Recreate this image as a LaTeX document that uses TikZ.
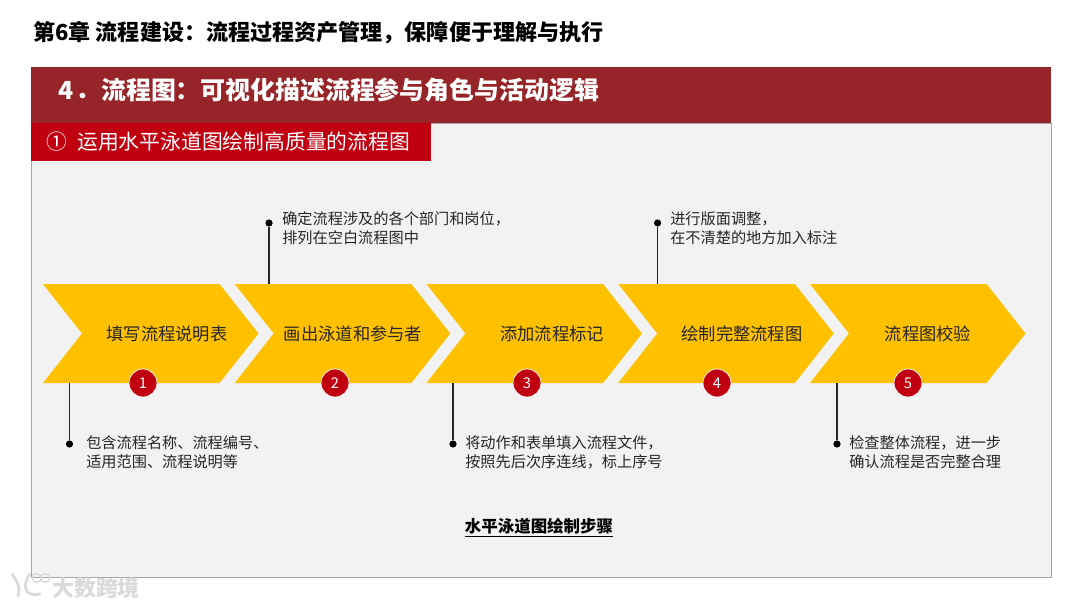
\documentclass[tikz,border=0pt]{standalone}
\usepackage{fontspec}
\setmainfont{Noto Sans CJK SC}
\usetikzlibrary{positioning, shapes.symbols}
\definecolor{bandred}{HTML}{962428}
\definecolor{tabred}{HTML}{C00010}
\definecolor{chevgold}{HTML}{FFC000}
\definecolor{panelgray}{HTML}{F2F2F2}
\definecolor{edgegray}{HTML}{A6A6A6}
\definecolor{inkgray}{HTML}{262626}
\definecolor{markgray}{HTML}{DADADA}

\begin{document}
\begin{tikzpicture}[
    panel/.style={draw=edgegray, fill=panelgray, line width=0.6pt, minimum width=25.5cm,
                  minimum height=11.35cm, inner sep=0pt, outer sep=0pt},
    band/.style={fill=bandred, minimum width=25.5cm, minimum height=1.4cm,
                 inner sep=0pt, outer sep=0pt},
    tab/.style={fill=tabred, minimum width=10cm, minimum height=0.95cm,
                inner sep=0pt, outer sep=0pt},
    chev/.style={shape=signal, signal from=west, signal to=east, signal pointer angle=103.6,
                 fill=chevgold, minimum width=5.3875cm, minimum height=2.475cm,
                 inner sep=0pt, outer sep=0pt},
    chevtext/.style={font=\fontsize{12.3}{15}\selectfont, text=inkgray},
    badge/.style={circle, fill=tabred, draw=white, line width=0.5pt, minimum size=0.7cm,
                  inner sep=0pt, text=white, font=\fontsize{10.5}{12}\selectfont},
    dot/.style={circle, fill=black, minimum size=0.18cm, inner sep=0pt},
    lead/.style={draw=black!85, line width=1pt},
    note/.style={anchor=west, align=left, text=inkgray, inner sep=0pt,
                 font=\fontsize{10.8}{13.6}\selectfont}
  ]
  \useasboundingbox (0, 0) rectangle (27, 15.2);

  % Title
  \node[anchor=west, inner sep=0pt, font=\fontsize{15.7}{18}\selectfont\bfseries] (title)
    at (0.825, 14.375) {第6章 流程建设：流程过程资产管理，保障便于理解与执行};

  % Panel and header
  \node[panel] (frame) at (13.525, 6.45) {};
  \node[band] (head) at (13.525, 12.825) {};
  \node[tab, anchor=north west] (sub) at (frame.north west) {};
  \node[anchor=west, inner sep=0pt, text=white, font=\fontsize{17.7}{20}\selectfont\bfseries] (headtext)
    at (1.45, 12.95) {4\hspace{1.5pt}．\hspace{0.6pt}流程图：可视化描述流程参与角色与活动逻辑};
  \node[anchor=west, inner sep=0pt, text=white, font=\fontsize{14.8}{18}\selectfont] (subtext)
    at (1.15, 11.65) {①\hspace{7.2pt}运用水平泳道图绘制高质量的流程图};

  % Chevrons
  \foreach \i/\cx/\lx/\t in {1/3.769/4.175/填写流程说明表,
                             2/8.5625/8.825/画出泳道和参与者,
                             3/13.356/13.8/添加流程标记,
                             4/18.15/18.55/绘制完整流程图,
                             5/22.944/23.2/流程图校验} {
    \node[chev] (c\i) at (\cx, 6.8625) {};
    \node[chevtext] (t\i) at (\lx, 6.85) {\t};
  }

  % Number badges
  \foreach \i/\bx in {1/3.575, 2/8.375, 3/13.175, 4/17.925, 5/22.7}
    \node[badge] (b\i) at (\bx, 5.625) {\i};

  % Notes below
  \node[dot] (d1) at (1.7375, 4.1) {};
  \node[dot] (d3) at (11.325, 4.1) {};
  \node[dot] (d5) at (20.925, 4.1) {};
  \draw[lead] (d1) -- (d1 |- c1.south);
  \draw[lead] (d3) -- (d3 |- c3.south);
  \draw[lead] (d5) -- (d5 |- c5.south);
  \node[note] (n1) at (2.15, 3.9) {包含流程名称、流程编号、\\适用范围、流程说明等};
  \node[note] (n3) at (11.625, 3.9) {将动作和表单填入流程文件，\\按照先后次序连线，标上序号};
  \node[note] (n5) at (21.225, 3.9) {检查整体流程，进一步\\确认流程是否完整合理};

  % Notes above
  \node[dot] (d2) at (6.725, 9.625) {};
  \node[dot] (d4) at (16.44, 9.625) {};
  \draw[lead] (d2) -- (d2 |- c2.north);
  \draw[lead] (d4) -- (d4 |- c4.north);
  \node[note] (n2) at (7.05, 9.4875) {确定流程涉及的各个部门和岗位，\\排列在空白流程图中};
  \node[note] (n4) at (16.75, 9.4875) {进行版面调整，\\在不清楚的地方加入标注};

  % Caption
  \node[font=\fontsize{11.7}{14}\selectfont\bfseries, inner sep=0pt] (cap)
    at (13.475, 2.0) {\underline{水平泳道图绘制步骤}};

  % Watermark
  \draw[markgray, line width=2pt, line cap=round] (0.3, 0.85) .. controls (0.5, 0.6) and (0.5, 0.4) .. (0.45, 0.3);
  \draw[markgray, line width=2pt, line cap=round] (0.75, 0.85) .. controls (0.55, 0.6) and (0.6, 0.25) .. (1.0, 0.35);
  \draw[markgray, line width=1pt] (0.92, 0.75) circle (0.11);
  \draw[markgray, line width=1pt] (1.13, 0.75) circle (0.11);
  \node[text=markgray, font=\fontsize{15.6}{18}\selectfont\bfseries, inner sep=0pt] (mark)
    at (2.4, 0.5) {大数跨境};
\end{tikzpicture}
\end{document}
